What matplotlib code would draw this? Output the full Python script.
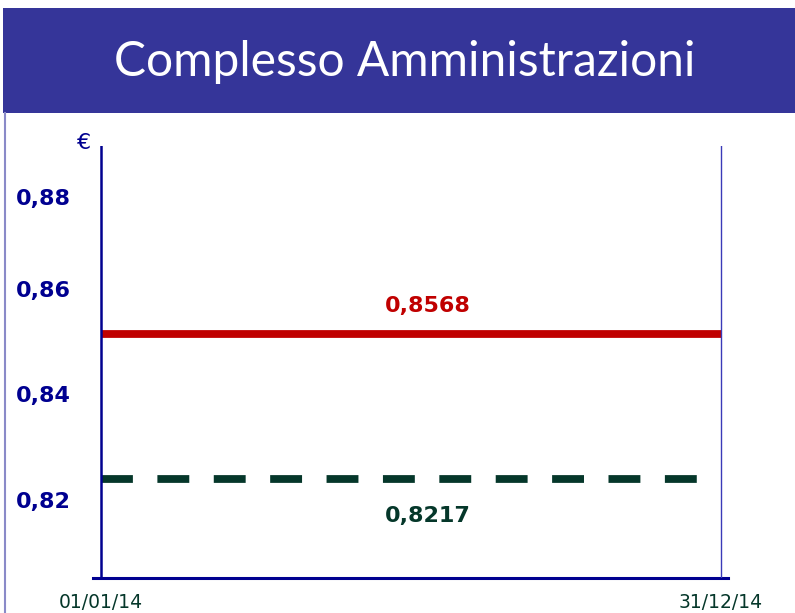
import matplotlib
matplotlib.use("Agg")
import matplotlib.pyplot as plt
import matplotlib.dates as mdates
from matplotlib.patches import Rectangle
from matplotlib.lines import Line2D
import datetime as dt

# ---- data ----
title = "Complesso Amministrazioni"
dates = [dt.date(2014, 1, 1), dt.date(2014, 12, 31)]
date_labels = ["01/01/14", "31/12/14"]
red_value = 0.8568
green_value = 0.8217
red_label = "0,8568"
green_label = "0,8217"
ytick_labels = ["0,82", "0,84", "0,86", "0,88"]
# where the labels sit on the (inconsistent) value scale of the original slide
ytick_values = [0.8165, 0.8422, 0.8678, 0.8900]
currency = "€"

NAVY = "#000090"
RED = "#c00000"
GREEN = "#05372a"
BANNER = "#353599"

W, H = 795, 613
fig = plt.figure(figsize=(W / 100, H / 100), dpi=100)
fig.patch.set_facecolor("white")

def fx(px):
    return px / W

def fy(py):
    return 1 - py / H

# banner
fig.patches.append(Rectangle((fx(3), fy(113)), 1 - fx(3), (113 - 8) / H,
                             transform=fig.transFigure, facecolor=BANNER,
                             edgecolor="none", zorder=0))
fig.text(fx(405), fy(62), title, color="white", fontsize=34.5,
         family="Lato", ha="center", va="center")
# left lavender border
fig.lines.append(Line2D([fx(4.5), fx(4.5)], [fy(113), 0], transform=fig.transFigure,
                        color="#8a8ac8", lw=1.5))

# axes
ax_left, ax_right, ax_top, ax_bottom = 93, 728, 146, 578
ax = fig.add_axes([fx(ax_left), fy(ax_bottom), (ax_right - ax_left) / W,
                   (ax_bottom - ax_top) / H])
ax.set_facecolor("none")

d0 = mdates.date2num(dates[0])
d1 = mdates.date2num(dates[1])
ppd = (720.7 - 101) / (d1 - d0)
ax.set_xlim(d0 - (101 - ax_left) / ppd, d1 + (ax_right - 720.7) / ppd)

ppu = (478.7 - 334) / (red_value - green_value)
ax.set_ylim(red_value - (ax_bottom - 334) / ppu, red_value + (334 - ax_top) / ppu)

for s in ["left", "right", "top"]:
    ax.spines[s].set_visible(False)
ax.spines["bottom"].set_color(NAVY)
ax.spines["bottom"].set_linewidth(2.2)

# vertical boundary lines
ax.axvline(d0, color=NAVY, lw=1.8, zorder=5)
ax.axvline(d1, color="#3a3ab8", lw=1.0, zorder=5)

xs = [d0, d1]
ax.plot(xs, [red_value, red_value], color=RED, lw=5.6, solid_capstyle="butt", zorder=4)
ln, = ax.plot(xs, [green_value, green_value], color=GREEN, lw=5.6,
              dash_capstyle="butt", zorder=4)
ln.set_dashes((4.1, 3.15))

xm = mdates.date2num(dt.date(2014, 1, 1)) + (427.5 - 101) / ppd
ax.text(xm, red_value + (334 - 306) / ppu, red_label, color=RED, fontsize=16,
        fontweight="bold", ha="center", va="center")
ax.text(xm, green_value - (516 - 478.7) / ppu, green_label, color=GREEN, fontsize=16,
        fontweight="bold", ha="center", va="center")

ax.set_yticks(ytick_values)
ax.set_yticklabels(ytick_labels)
ax.tick_params(axis="y", length=0, pad=16, labelsize=16, labelcolor=NAVY)
for t in ax.get_yticklabels():
    t.set_fontweight("bold")

ax.set_xticks(xs)
ax.set_xticklabels(date_labels)
ax.tick_params(axis="x", length=0, pad=11, labelsize=13.5, labelcolor=GREEN)

fig.text(fx(84), fy(143), currency, color=NAVY, fontsize=16, ha="center", va="center")

fig.savefig("out.png", dpi=100)
